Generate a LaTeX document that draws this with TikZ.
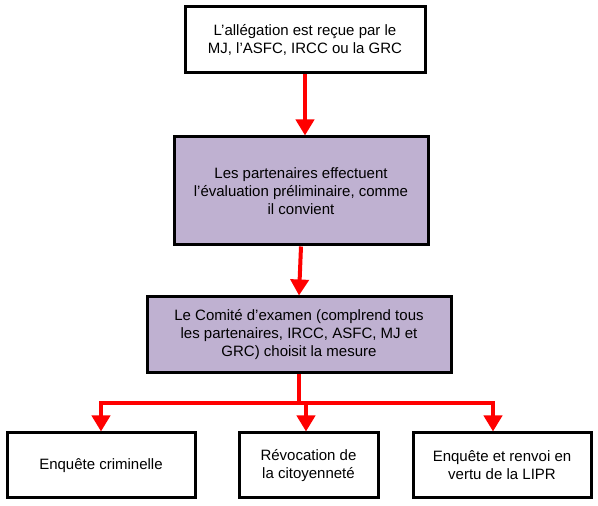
\documentclass[tikz,border=0pt]{standalone}
\usepackage{fontspec}
\setmainfont{Liberation Sans}
\usetikzlibrary{arrows.meta}
\definecolor{lilas}{RGB}{191,177,209}
\definecolor{rouge}{RGB}{255,0,0}
\tikzset{
    etape/.style={draw=black, line width=3pt, align=center, inner sep=0pt,
        font=\fontsize{15}{18}\selectfont},
    fleche/.style={draw=rouge, line width=4pt, -{Triangle[length=16pt,width=18pt]}},
}
\begin{document}
\begin{tikzpicture}[x=1pt,y=1pt]
    \useasboundingbox (0,0) rectangle (598,506);

    \node[etape, minimum width=240pt, minimum height=66pt] (alleg) at (305,466)
        {L’allégation est reçue par le\\MJ, l’ASFC, IRCC ou la GRC};
    \node[etape, fill=lilas, minimum width=254pt, minimum height=108pt] (eval) at (301,315)
        {Les partenaires effectuent\\l’évaluation préliminaire, comme\\il convient};
    \node[etape, fill=lilas, minimum width=304pt, minimum height=76pt] (comite) at (299,171)
        {Le Comité d’examen (complrend tous\\les partenaires, IRCC, ASFC, MJ et\\GRC) choisit la mesure};
    %decisions
    \node[etape, minimum width=188pt, minimum height=65pt] (crim) at (101,40.5)
        {Enquête criminelle};
    \node[etape, minimum width=139pt, minimum height=65pt] (revoc) at (308.5,40.5)
        {Révocation de\\la citoyenneté};
    \node[etape, minimum width=178pt, minimum height=65pt] (lipr) at (502,40.5)
        {Enquête et renvoi en\\vertu de la LIPR};

    \draw[fleche] (alleg.south) -- (alleg.south |- eval.north);
    \draw[fleche] (eval.south) -- (comite.north);

    \coordinate (split) at (299,103);
    \draw[draw=rouge, line width=4pt] (comite.south) -- (split);
    \draw[fleche] (split) -| (crim.north);
    \draw[fleche] (split) -| ([xshift=-2.5pt]revoc.north);
    \draw[fleche] (split) -| ([xshift=-9pt]lipr.north);

\end{tikzpicture}
\end{document}
